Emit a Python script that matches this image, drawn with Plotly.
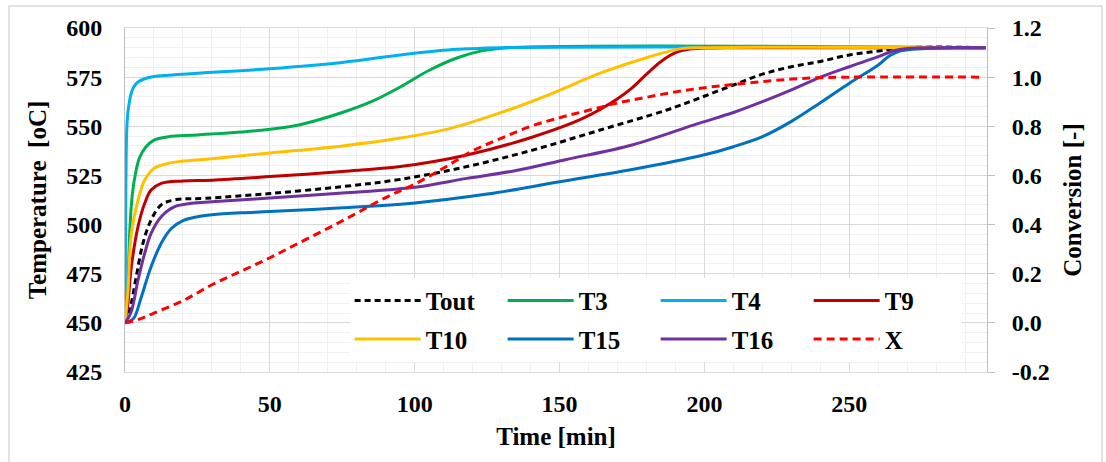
import plotly.graph_objects as go

# ---------------- data ----------------
t_tout = [0, 2, 3.9, 6.2, 9, 12.5, 17, 28, 50, 75, 95, 118, 141, 164, 187, 198, 210, 220, 230, 240, 250, 260, 270, 297]
tout = [450, 459, 473.6, 490.5, 502.3, 510, 512.5, 513.4, 515.8, 519.3, 523, 529.5, 538, 548.1, 558.3, 564.2, 571, 576.5, 580.3, 583, 586.3, 588.3, 590, 590]

t_t3 = [0, 0.8, 1.6, 2.5, 3.9, 5, 7.2, 10, 15, 25, 47, 60, 75, 85, 95, 105, 115, 123.5, 132, 297]
t3 = [450, 462, 495, 515, 528, 534, 539.5, 543, 544.7, 545.6, 548, 550.7, 557, 562.5, 570, 578.5, 585, 588.5, 590, 590]

t_t4 = [0, 0.3, 0.6, 1, 2, 3, 4.5, 7, 10, 15, 25, 50, 75, 95, 110, 118, 130, 297]
t4 = [450, 520, 548, 557, 566, 570, 572.5, 574.3, 575.3, 576, 577, 579.3, 582.5, 586.3, 588.7, 589.4, 590, 590]

t_t9 = [0, 1, 2.2, 4.5, 6.8, 9, 12.5, 20, 30, 50, 75, 95, 118, 141, 158, 170, 175, 180, 185, 190, 195, 200, 210, 297]
t9 = [450, 460, 478.6, 499, 510.8, 517.6, 521, 522.2, 522.6, 524.4, 527, 529.5, 535.4, 544.7, 554, 564, 569.5, 576.5, 583, 587.5, 589.3, 589.8, 590, 590]

t_t10 = [0, 1, 2.2, 4.5, 6.8, 10, 15, 20, 29, 50, 75, 95, 112, 129, 146, 164, 181, 192, 200, 297]
t10 = [450, 466, 495.6, 512.5, 522.7, 528.6, 531.2, 532.3, 533.4, 536.4, 540, 544, 548.8, 556.6, 565.9, 577, 585.4, 589.5, 590, 590]

t_t15 = [0, 2, 3.3, 5.6, 9, 12.5, 16, 20, 25, 30, 40, 50, 75, 100, 125, 150, 175, 200, 210, 220, 230, 240, 250, 260, 264, 268, 275, 297]
t15 = [450, 451, 453, 463, 478.5, 490.5, 498, 502, 504, 505, 506, 506.6, 508.5, 511, 515.5, 521.8, 528, 535.5, 539.6, 544.7, 552.5, 562, 571.9, 581.2, 586, 588.5, 589.5, 590]

t_t16 = [0, 2, 4.5, 6.8, 9, 12.5, 17, 23, 30, 50, 75, 100, 118, 135, 152, 175, 198, 210, 220, 230, 240, 250, 260, 265, 270, 280, 297]
t16 = [450, 455, 471.8, 485.4, 495.5, 504, 509, 510.8, 511.6, 513.5, 516, 519, 523.5, 527.5, 533, 540.5, 551.5, 557, 562.5, 568.5, 575, 580.3, 585.4, 588.3, 589.6, 590, 590]

t_x = [0, 5, 10, 20, 30, 40, 50, 60, 75, 90, 100, 110, 120, 130, 140, 150, 160, 170, 180, 190, 200, 210, 220, 230, 240, 250, 295]
x_conv = [0, 0.015, 0.04, 0.09, 0.155, 0.21, 0.265, 0.325, 0.415, 0.51, 0.565, 0.63, 0.70, 0.752, 0.80, 0.835, 0.865, 0.895, 0.918, 0.94, 0.957, 0.97, 0.982, 0.992, 0.998, 1.0, 1.0]

x_ticks = [0, 50, 100, 150, 200, 250]
y_ticks = [425, 450, 475, 500, 525, 550, 575, 600]
y2_ticks = [-0.2, 0.0, 0.2, 0.4, 0.6, 0.8, 1.0, 1.2]
y2_labels = ["-0.2", "0.0", "0.2", "0.4", "0.6", "0.8", "1.0", "1.2"]

# ---------------- style ----------------
FONT = "Liberation Serif, Times New Roman, serif"
W = 3

fig = go.Figure()

def add(tt, yy, name, color, dash="solid", legend="legend", yaxis="y"):
    fig.add_trace(go.Scatter(x=tt, y=yy, name=name, mode="lines",
                             line=dict(color=color, width=W, dash=dash, shape="spline", smoothing=1.0),
                             legend=legend, yaxis=yaxis))

add(t_tout, tout, "Tout", "#000000", dash="6px,4px")
add(t_t3, t3, "T3", "#00B050")
add(t_t4, t4, "T4", "#00B0F0")
add(t_t9, t9, "T9", "#C00000")
add(t_t10, t10, "T10", "#FFC000", legend="legend2")
add(t_t15, t15, "T15", "#0070C0", legend="legend2")
add(t_t16, t16, "T16", "#7030A0", legend="legend2")
add(t_x, x_conv, "X", "#FF0000", dash="8px,5px", legend="legend2", yaxis="y2")

legend_common = dict(orientation="h", bgcolor="white", borderwidth=0,
                     font=dict(family=FONT, size=25, color="black", weight="bold"),
                     entrywidth=72, entrywidthmode="pixels", itemwidth=66,
                     xanchor="left", yanchor="top", tracegroupgap=0)

grid_major = "#d9d9d9"
grid_minor = "#f0f0f0"
tickfont = dict(family=FONT, size=24, color="black", weight="bold")
titlefont = dict(family=FONT, size=25, color="black", weight="bold")

fig.update_layout(
    width=1106, height=462,
    margin=dict(l=125, r=119, t=28, b=90),
    paper_bgcolor="white", plot_bgcolor="white",
    showlegend=True,
    legend=dict(x=0.2606, y=0.274, **legend_common),
    legend2=dict(x=0.2606, y=0.162, **legend_common),
    xaxis=dict(range=[0, 297.5], tickvals=x_ticks, showgrid=True, gridcolor=grid_major, gridwidth=1,
               minor=dict(dtick=10, showgrid=True, gridcolor=grid_minor, gridwidth=1, tick0=0),
               showline=True, linecolor=grid_major, linewidth=1, mirror=True,
               zeroline=False, tickfont=tickfont, ticks="", ticklabelstandoff=10,
               title=dict(text="Time [min]", font=titlefont, standoff=11)),
    yaxis=dict(range=[425, 600], tickvals=y_ticks, showgrid=True, gridcolor=grid_major, gridwidth=1,
               minor=dict(dtick=5, showgrid=True, gridcolor=grid_minor, gridwidth=1, tick0=425),
               showline=True, linecolor="#bfbfbf", linewidth=1,
               zeroline=False, tickfont=tickfont, ticks="", ticklabelstandoff=17,
               title=dict(text="Temperature  [oC]", font=titlefont, standoff=12)),
    yaxis2=dict(range=[-0.2, 1.2], tickvals=y2_ticks, ticktext=y2_labels, overlaying="y", side="right",
                showgrid=False, zeroline=False, showline=True, linecolor="#bfbfbf", linewidth=1,
                ticks="outside", ticklen=7, tickcolor="#bfbfbf", tickfont=tickfont, ticklabelstandoff=12,
                title=dict(text="Conversion [-]", font=titlefont, standoff=14)),
    shapes=[dict(type="rect", xref="paper", yref="paper", x0=-0.1346, x1=1.1334, y0=-0.3, y1=1.064,
                 line=dict(color="#d9d9d9", width=1.5), fillcolor="rgba(0,0,0,0)", layer="below")],
)

fig.write_html("out.html")
